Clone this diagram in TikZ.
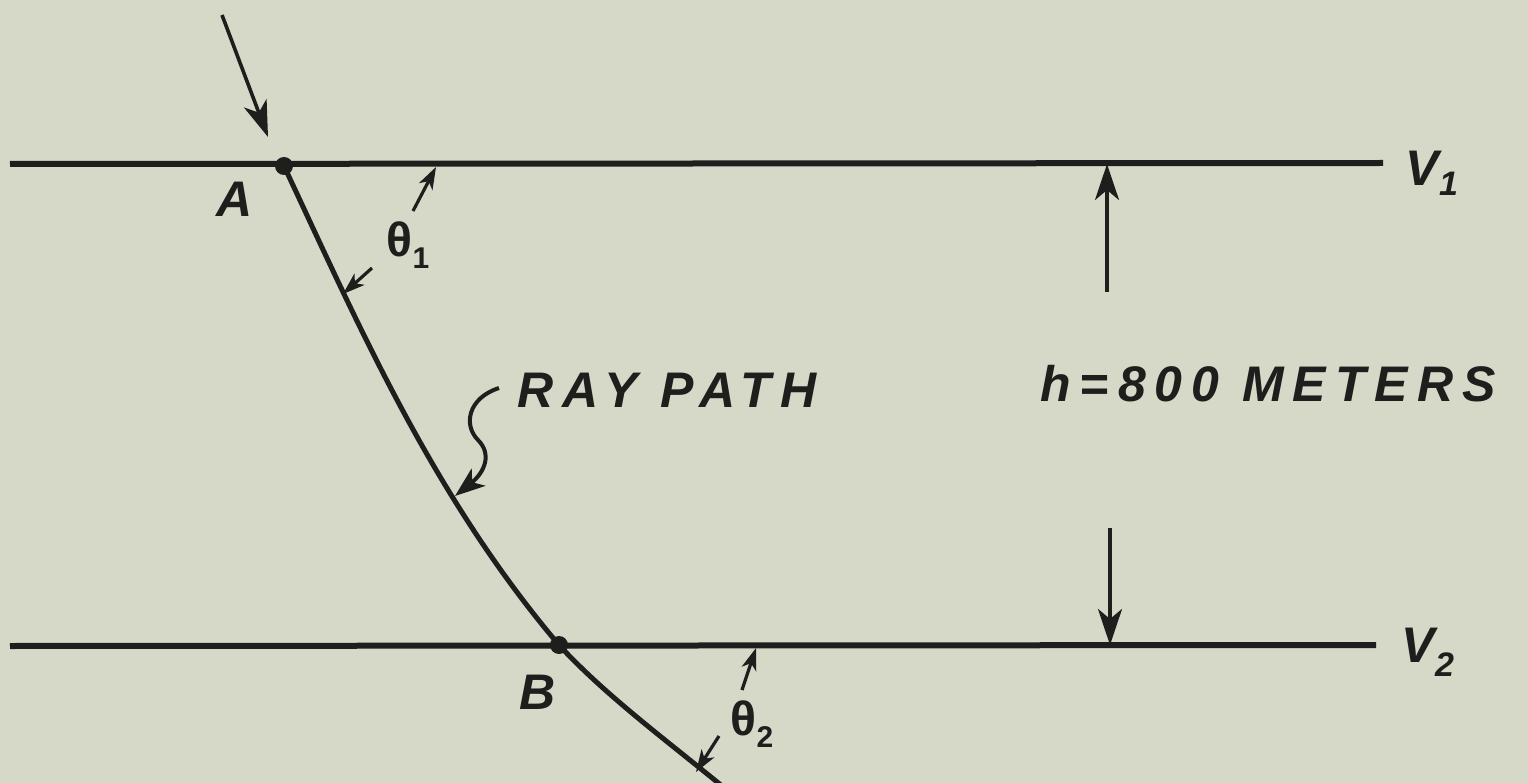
\documentclass[tikz,border=0pt]{standalone}
\usepackage{fontspec}
\setmainfont{Liberation Sans}
\newfontfamily\hand[LetterSpace=18]{Liberation Sans}
\newfontfamily\handtight[LetterSpace=0]{Liberation Sans}
\usetikzlibrary{arrows.meta}
\definecolor{paper}{HTML}{D6D8C8}
\definecolor{ink}{HTML}{1E1E1C}
\begin{document}
\begin{tikzpicture}[x=1pt,y=-1pt,
  layer/.style={draw=ink,line width=6pt},
  ray/.style={draw=ink,line width=5pt},
  dim/.style={draw=ink,line width=3.6pt,-{Stealth[length=36pt,width=24pt,inset=10pt]}},
  small/.style={draw=ink,line width=3.2pt,-{Stealth[length=22pt,width=15pt,inset=6pt]}},
  lbl/.style={text=ink,font=\hand\bfseries\itshape\fontsize{50}{50}\selectfont,inner sep=0pt},
  sym/.style={text=ink,font=\handtight\bfseries\itshape\fontsize{50}{50}\selectfont,inner sep=0pt},
  dot/.style={circle,fill=ink,inner sep=0pt,minimum size=18pt}]
\fill[paper] (0,0) rectangle (1528,783);
\useasboundingbox (0,0) rectangle (1528,783);
% layer boundaries
\coordinate (L1a) at (10,164);
\coordinate (L1b) at (1383,163);
\coordinate (L2a) at (10,646);
\coordinate (L2b) at (1376,645);
\draw[layer] (L1a) -- (L1b);
\draw[layer] (L2a) -- (L2b);
\node[sym] (V1) at (1432,173) {V\raisebox{-10pt}{\fontsize{34}{34}\selectfont 1}};
\node[sym] (V2) at (1428,652) {V\raisebox{-14pt}{\fontsize{34}{34}\selectfont 2}};
% points
\node[dot] (A) at (284,166) {};
\node[dot] (B) at (559,645) {};
\coordinate (E) at (722,786);
\draw[ray] (A.center) .. controls (359,326) and (432,495) .. (B.center)
  .. controls (605,695) and (666,740) .. (E);
\node[sym] (Alab) at (235,199) {A};
\node[sym] (Blab) at (538,692) {B};
% incoming ray
\coordinate (In0) at (222,15);
\coordinate (In1) at (268,137);
\draw[dim] (In0) -- (In1);
% theta 1
\coordinate (t1a) at (372,268);
\coordinate (t1b) at (343,294);
\coordinate (t1c) at (413,211);
\coordinate (t1d) at (436,167);
\draw[small] (t1a) -- (t1b);
\draw[small] (t1c) -- (t1d);
\node[sym,font=\handtight\bfseries\fontsize{48}{48}\selectfont] (th1) at (408,245) {θ\raisebox{-12pt}{\fontsize{30}{30}\selectfont 1}};
% theta 2
\coordinate (t2a) at (719,736);
\coordinate (t2b) at (696,772);
\coordinate (t2c) at (742,690);
\coordinate (t2d) at (756,648);
\draw[small] (t2a) -- (t2b);
\draw[small] (t2c) -- (t2d);
\node[sym,font=\handtight\bfseries\fontsize{48}{48}\selectfont] (th2) at (752,724) {θ\raisebox{-12pt}{\fontsize{30}{30}\selectfont 2}};
% ray path label
\node[lbl] (rp) at (667,390) {RAY PATH};
\coordinate (rp0) at (499,388);
\coordinate (rp1) at (455,496);
\draw[draw=ink,line width=4pt,-{Stealth[length=30pt,width=22pt,inset=8pt]}]
  (rp0) .. controls (468,398) and (463,425) .. (478,440)
  .. controls (492,454) and (485,472) .. (rp1);
% thickness
\node[lbl] (h) at (1268,384) {h=800 METERS};
\coordinate (h1) at (1107,292);
\coordinate (h1t) at (1107,164);
\coordinate (h2) at (1110,528);
\coordinate (h2t) at (1110,645);
\draw[dim] (h1) -- (h1t);
\draw[dim] (h2) -- (h2t);
\end{tikzpicture}
\end{document}
